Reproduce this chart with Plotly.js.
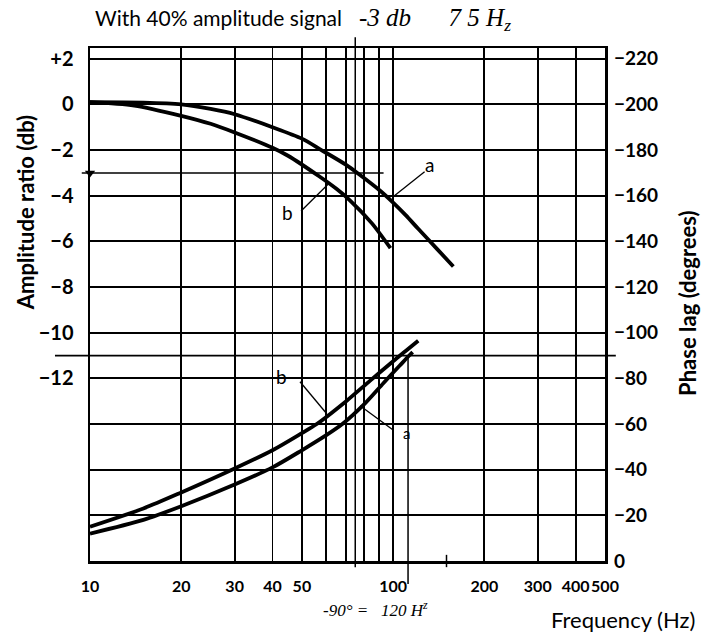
<!DOCTYPE html>
<html>
<head>
<meta charset="utf-8">
<script src="https://cdn.plot.ly/plotly-3.0.1.min.js"></script>
<style>
  html, body { margin: 0; padding: 0; background: #fff; }
  #chart { width: 702px; height: 639px; }
</style>
</head>
<body>
<div id="chart"></div>
<script>
// Amplitude ratio (db) of the two responses, a and b
const freqAmpA = [10, 15, 20, 25, 30, 40, 50, 58, 70, 77, 90, 100, 110, 121, 140, 158];
const ampA     = [0.1, 0.08, 0.0, -0.2, -0.43, -1.0, -1.5, -2.0, -2.65, -3.05, -3.75, -4.3, -4.85, -5.45, -6.35, -7.1];
const freqAmpB = [10, 14, 20, 25, 30, 40, 45, 57, 65, 72, 85, 98];
const ampB     = [0.1, -0.05, -0.5, -0.85, -1.23, -1.9, -2.25, -3.15, -3.7, -4.2, -5.2, -6.3];

// Phase lag (degrees) of the two responses
const freqPhaseA = [10, 15, 20, 30, 40, 50, 60, 68, 80, 93, 105, 113, 116];
const phaseA     = [-12, -18, -24, -33.5, -41, -48.5, -55, -60, -68.5, -78, -85.5, -90, -91.5];
const freqPhaseB = [10, 15, 20, 30, 40, 50, 56, 70, 84, 100, 110, 121];
const phaseB     = [-15, -23, -30, -40.5, -48.5, -56, -60, -70, -79, -87.5, -92, -96.5];

// Axis ticks
const freqTicks   = [10, 20, 30, 40, 50, 60, 70, 80, 90, 100, 200, 300, 400, 500];
const freqLabels  = ['10', '20', '30', '40', '50', '', '', '', '', '100', '200', '300', '400', '500'];
const dbTicks     = [2, 0, -2, -4, -6, -8, -10, -12, -14, -16, -18, -20];
const dbLabels    = ['+2', '0', '\u22122', '\u22124', '\u22126', '\u22128', '\u221210', '\u221212', '', '', '', ''];
const phaseTicks  = [0, -20, -40, -60, -80, -100, -120, -140, -160, -180, -200, -220];
const phaseLabels = ['0', '\u221220', '\u221240', '\u221260', '\u221280', '\u2212100', '\u2212120', '\u2212140', '\u2212160', '\u2212180', '\u2212200', '\u2212220'];

// Pencil marks: -3 db level, 75 Hz, -90 degrees at about 112 Hz
const dbMark = -3;
const dbMarkFreq = 75;
const phaseMark = -90;
const phaseMarkFreq = 112;

// Axis ranges: 2 db of amplitude share a grid step with 20 degrees of phase
const X_RANGE = [1, Math.log10(500)];
const DB_RANGE = [-20, 2.47];
const PH_RANGE = [-200 - 10 * DB_RANGE[0], -200 - 10 * DB_RANGE[1]];

// Helpers turning values into paper fractions for the overlay marks
const fx  = f => (Math.log10(f) - X_RANGE[0]) / (X_RANGE[1] - X_RANGE[0]);
const fdb = d => (d - DB_RANGE[0]) / (DB_RANGE[1] - DB_RANGE[0]);
const fph = p => (p - PH_RANGE[0]) / (PH_RANGE[1] - PH_RANGE[0]);
const bold = arr => arr.map(s => s ? '<b>' + s + '</b>' : '');

const INK = '#000';
const curve = (x, y, axis) => ({
  x: x, y: y, yaxis: axis, type: 'scatter', mode: 'lines',
  line: { color: INK, width: 3.8, shape: 'spline', smoothing: 0.8 },
  hoverinfo: 'skip', showlegend: false
});

const traces = [
  curve(freqAmpA, ampA, 'y'),
  curve(freqAmpB, ampB, 'y'),
  curve(freqPhaseA, phaseA, 'y2'),
  curve(freqPhaseB, phaseB, 'y2'),
  { // arrow head on the -3 db mark at the amplitude axis
    x: [10], y: [dbMark], yaxis: 'y', type: 'scatter', mode: 'markers', cliponaxis: false,
    marker: { symbol: 'triangle-down', size: 9, color: INK }, hoverinfo: 'skip', showlegend: false
  }
];

const seg = (x0, y0, x1, y1, w) => ({
  type: 'line', xref: 'paper', yref: 'paper', x0: x0, y0: y0, x1: x1, y1: y1,
  line: { color: INK, width: w || 1.5 }
});

const shapes = [
  // -3 db level
  seg(-0.016, fdb(dbMark), fx(93), fdb(dbMark)),
  // 75 Hz line, running past the frame
  seg(fx(dbMarkFreq), -0.012, fx(dbMarkFreq), 1.021),
  // -90 degree level, running past both axes
  seg(-0.068, fph(phaseMark), 1.021, fph(phaseMark), 1.7),
  // frequency of -90 degrees
  seg(fx(phaseMarkFreq), fph(phaseMark), fx(phaseMarkFreq), -0.045),
  // small mark at 150 Hz on the frequency axis
  seg(fx(150), -0.012, fx(150), 0.012),
  // label leaders
  seg(fx(127), fdb(-2.95), fx(100), fdb(-4.05), 1.3),
  seg(fx(49.7), fdb(-4.67), fx(61), fdb(-3.5), 1.3),
  seg(fx(49.3), fph(-78.5), fx(60.4), fph(-64.5), 1.3),
  seg(fx(100), fph(-57.4), fx(77.8), fph(-68), 1.3)
];

const SANS = 'Lato, "Open Sans", sans-serif';
const HAND = '"Liberation Serif", "DejaVu Serif", serif';

const note = (text, x, y, opts) => Object.assign({
  text: text, xref: 'paper', yref: 'paper', x: x, y: y, showarrow: false,
  xanchor: 'center', yanchor: 'middle',
  font: { family: SANS, size: 19, color: INK }
}, opts || {});

const annotations = [
  note('a', fx(132), fdb(-2.65)),
  note('b', fx(44.7), fdb(-4.75)),
  note('b', fx(42.9), fph(-81)),
  note('a', fx(111), fph(-55.9), { font: { family: SANS, size: 15, color: INK } }),
  note('<b>Amplitude ratio (db)</b>', -0.126, 0.678, { textangle: -90, font: { family: SANS, size: 22, color: INK } }),
  note('<b>Phase lag (degrees)</b>', 1.161, 0.503, { textangle: -90, font: { family: SANS, size: 22, color: INK } }),
  note('Frequency (Hz)', 1.178, -0.115, { xanchor: 'right', font: { family: SANS, size: 22, color: INK } }),
  note('-3 db &nbsp;&nbsp;&nbsp;&nbsp; 7 5 H<sub>z</sub>', fx(76), 1.055, { xanchor: 'left',
    font: { family: HAND, size: 25, color: INK, style: 'italic' } }),
  note('-90\u00b0 = &nbsp;&nbsp;120 H<sup>z</sup>', 0.449, -0.093, { xanchor: 'left',
    font: { family: HAND, size: 17, color: INK, style: 'italic' } })
];

const layout = {
  width: 702, height: 639,
  margin: { l: 90, r: 97, t: 48, b: 78 },
  paper_bgcolor: '#fff', plot_bgcolor: '#fff',
  showlegend: false,
  title: {
    text: 'With 40% amplitude signal',
    xref: 'container', yref: 'container', x: 95 / 702, xanchor: 'left', y: 1 - 19 / 639, yanchor: 'middle',
    font: { family: SANS, size: 21, color: INK }
  },
  xaxis: {
    type: 'log', range: X_RANGE,
    tickvals: freqTicks, ticktext: bold(freqLabels), tickangle: 0,
    showgrid: true, gridcolor: INK, gridwidth: 1.8,
    showline: true, mirror: true, linecolor: INK, linewidth: 2.5,
    ticks: '', ticklabelstandoff: 9,
    tickfont: { family: SANS, size: 16, color: INK },
    zeroline: false, fixedrange: true
  },
  yaxis: {
    range: DB_RANGE,
    tickvals: dbTicks, ticktext: bold(dbLabels),
    showgrid: true, gridcolor: INK, gridwidth: 1.8,
    showline: true, mirror: true, linecolor: INK, linewidth: 2.5,
    ticks: '', ticklabelstandoff: 10,
    tickfont: { family: SANS, size: 20, color: INK },
    zeroline: false, fixedrange: true
  },
  yaxis2: {
    overlaying: 'y', side: 'right', range: PH_RANGE,
    tickvals: phaseTicks, ticktext: bold(phaseLabels),
    showgrid: false, showline: false, zeroline: false,
    ticks: '', ticklabelstandoff: 8,
    tickfont: { family: SANS, size: 19, color: INK },
    fixedrange: true
  },
  shapes: shapes,
  annotations: annotations
};

Plotly.newPlot('chart', traces, layout, { staticPlot: true, displayModeBar: false });
</script>
</body>
</html>
